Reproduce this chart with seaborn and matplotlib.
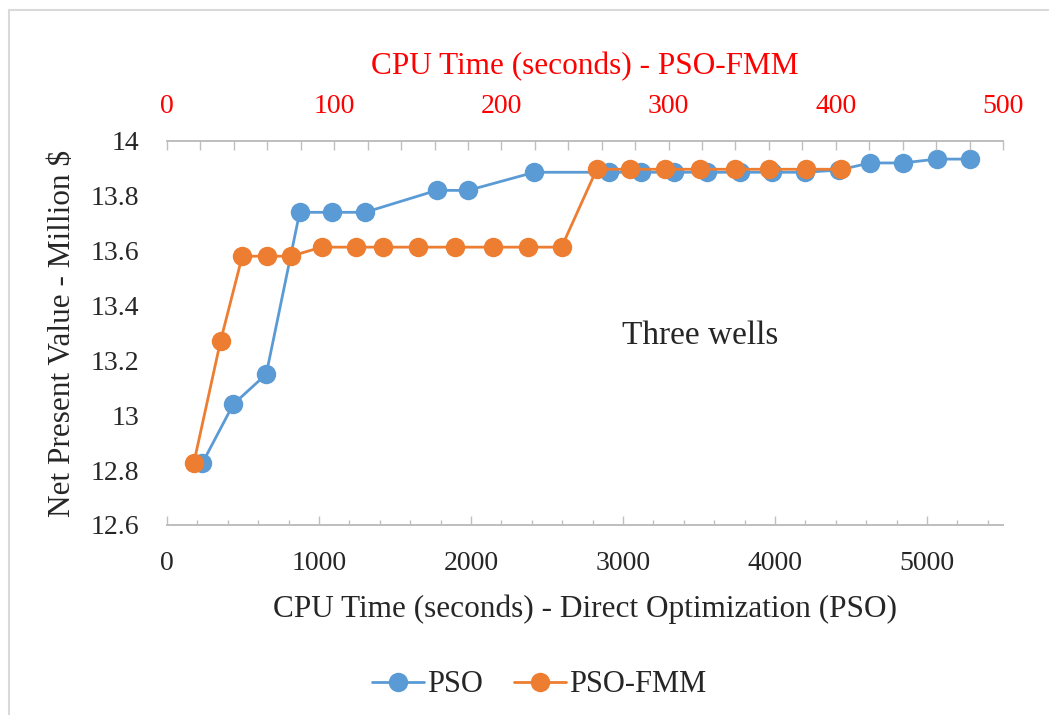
import matplotlib
matplotlib.use("Agg")
import matplotlib.pyplot as plt
import matplotlib.patches as mpatches
from matplotlib.ticker import MultipleLocator, FuncFormatter
from matplotlib.lines import Line2D
import seaborn as sns
import pandas as pd

# PSO (direct optimization) - bottom axis, seconds
pso_time = [232, 436, 653, 873, 1088, 1303, 1774, 1982, 2417, 2910, 3116,
            3336, 3551, 3770, 3980, 4199, 4419, 4625, 4840, 5064, 5283]
pso_npv = [12.825, 13.04, 13.15, 13.74, 13.74, 13.74, 13.82, 13.82, 13.886, 13.886, 13.886,
           13.886, 13.886, 13.886, 13.886, 13.886, 13.894, 13.92, 13.92, 13.934, 13.934]

# PSO-FMM - top axis, seconds
fmm_time = [16, 32, 45, 60, 74, 92.5, 113, 129, 150, 172, 195,
            216, 236, 257, 277, 298, 319, 340, 360, 382, 403]
fmm_npv = [12.825, 13.27, 13.58, 13.58, 13.58, 13.613, 13.613, 13.613, 13.613, 13.613, 13.613,
           13.613, 13.613, 13.897, 13.897, 13.897, 13.897, 13.897, 13.897, 13.897, 13.897]

blue = "#5B9BD5"
orange = "#ED7D31"
gray = "#BFBFBF"

sns.set_theme(style="white")
plt.rcParams['font.family'] = ['Liberation Serif', 'DejaVu Serif']

df_pso = pd.DataFrame({"time": pso_time, "npv": pso_npv})
df_fmm = pd.DataFrame({"time": fmm_time, "npv": fmm_npv})

fig = plt.figure(figsize=(10.49, 7.15), dpi=100)
ax = fig.add_axes([167 / 1049, 1 - 525 / 715, 836 / 1049, 384 / 715])

sns.lineplot(data=df_pso, x="time", y="npv", ax=ax, color=blue, marker="o",
             markersize=14, markeredgewidth=0, linewidth=2)
ax.set_xlim(0, 5500)
ax.set_ylim(12.6, 14)

ax2 = ax.twiny()
sns.lineplot(data=df_fmm, x="time", y="npv", ax=ax2, color=orange, marker="o",
             markersize=14, markeredgewidth=0, linewidth=2)
ax2.set_xlim(0, 500)

for a in (ax, ax2):
    for s in ("left", "right"):
        a.spines[s].set_visible(False)
    for s in ("top", "bottom"):
        a.spines[s].set_color(gray)
        a.spines[s].set_linewidth(1.3)

ax.yaxis.set_major_locator(MultipleLocator(0.2))
ax.yaxis.set_major_formatter(FuncFormatter(lambda v, p: f"{v:g}"))
ax.tick_params(axis="y", length=0, pad=20, labelsize=20)

ax.xaxis.set_major_locator(MultipleLocator(1000))
ax.xaxis.set_minor_locator(MultipleLocator(200))
ax.tick_params(axis="x", which="major", direction="in", length=6.5, width=1, color=gray,
               pad=19, labelsize=20, bottom=True, top=False)
ax.tick_params(axis="x", which="minor", direction="in", length=3.8, width=1, color=gray,
               bottom=True, top=False)

ax2.xaxis.set_major_locator(MultipleLocator(100))
ax2.xaxis.set_minor_locator(MultipleLocator(20))
ax2.tick_params(axis="x", which="major", direction="in", length=6.5, width=1, color=gray,
                pad=16, labelsize=20, labelcolor="red")
ax2.tick_params(axis="x", which="minor", direction="in", length=6.5, width=1, color=gray)

ax.set_xlabel("CPU Time (seconds) - Direct Optimization (PSO)", fontsize=22.5, labelpad=13)
ax.set_ylabel("Net Present Value - Million $", fontsize=22.5, labelpad=10)
ax2.set_xlabel("CPU Time (seconds) - PSO-FMM", fontsize=22.5, color="red", labelpad=14)

ax.text(3510, 13.29, "Three wells", fontsize=24, ha="center", va="center")

handles = [Line2D([], [], color=blue, marker="o", markersize=14, markeredgewidth=0, linewidth=2),
           Line2D([], [], color=orange, marker="o", markersize=14, markeredgewidth=0, linewidth=2)]
fig.legend(handles, ["PSO", "PSO-FMM"], loc="center", bbox_to_anchor=(539 / 1049, 1 - 685 / 715),
           ncol=2, frameon=False, fontsize=22, handlelength=1.7, handletextpad=0.1,
           columnspacing=1.0)

# chart area border
border = mpatches.Rectangle((9 / 1049, -0.1), 1.2, 1 - 10 / 715 + 0.1, transform=fig.transFigure,
                            fill=False, edgecolor="#D9D9D9", linewidth=1.5)
fig.patches.append(border)

fig.savefig("out.png", dpi=100)
